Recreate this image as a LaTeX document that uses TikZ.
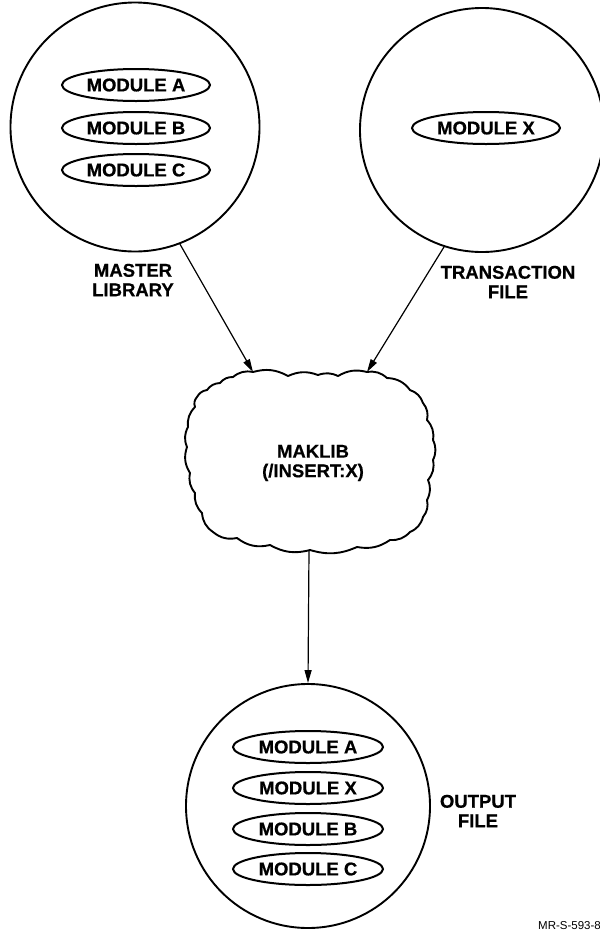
\documentclass[tikz,border=0pt]{standalone}
\usepackage{fontspec}
\setmainfont{Liberation Sans}
\newfontfamily\lblfont[FakeBold=0.5]{Liberation Sans}
\usetikzlibrary{shapes.geometric,arrows.meta,calc}
\begin{document}
\begin{tikzpicture}[x=1pt,y=-1pt,
  filecircle/.style={circle,draw,line width=1.9pt,minimum size=#1,inner sep=0pt},
  modbox/.style={ellipse,draw,line width=2pt,minimum width=148pt,minimum height=32pt,inner sep=0pt,font=\lblfont\bfseries\fontsize{18.5}{20}\selectfont},
  lbl/.style={align=center,font=\lblfont\bfseries\fontsize{18.5}{19.5}\selectfont,inner sep=0pt},
  flow/.style={line width=1.2pt,-{Triangle[length=13pt,width=7pt]}},
  cloudline/.style={line width=1.9pt,line join=round}]
\useasboundingbox (0,0) rectangle (600,930);

% master library
\node[filecircle=249pt] (ml) at (135,127) {};
\node[modbox] (mla) at (136,85) {MODULE A};
\node[modbox] (mlb) at (136,128) {MODULE B};
\node[modbox] (mlc) at (136,170) {MODULE C};
\node[lbl] (mllbl) at (133,280) {MASTER\\LIBRARY};

% transaction file
\node[filecircle=244pt] (tf) at (482,130) {};
\node[modbox] (tfx) at (486,128) {MODULE X};
\node[lbl] (tflbl) at (508,282) {TRANSACTION\\FILE};

% maklib cloud
\node[minimum width=248pt,minimum height=178pt,inner sep=0pt] (mak) at (309,461) {};
\draw[cloudline] (253,372)
  to[bend left=22] (288,376) to[bend left=22] (318,375) to[bend left=22] (338,376)
  to[bend left=22] (367,372) to[bend left=25] (387,378) to[bend left=25] (410,390)
  to[bend left=25] (423,403) to[bend left=25] (427,420) to[bend left=25] (433,440)
  to[bend left=25] (433,460) to[bend left=25] (428,480) to[bend left=25] (427,500)
  to[bend left=25] (423,517) to[bend left=25] (410,532) to[bend left=25] (390,540)
  to[bend left=22] (357,547) to[bend left=20] (310,550) to[bend left=22] (270,545)
  to[bend left=25] (237,538) to[bend left=25] (213,532) to[bend left=25] (202,513)
  to[bend left=25] (195,493) to[bend left=25] (190,473) to[bend left=25] (187,447)
  to[bend left=25] (188,427) to[bend left=25] (195,407) to[bend left=30] (197,397)
  to[bend left=25] (207,390) to[bend left=25] (220,383) to[bend left=25] (233,377)
  to[bend left=25] (253,372);
\node[lbl] (maklbl) at (313,463) {MAKLIB\\(/INSERT:X)};
\coordinate (in1) at (253,372);
\coordinate (in2) at (367,372);

% output file
\node[filecircle=244pt] (of) at (308,806) {};
\node[modbox,minimum width=150pt] (ofa) at (308,747) {MODULE A};
\node[modbox,minimum width=150pt] (ofx) at (308,788) {MODULE X};
\node[modbox,minimum width=150pt] (ofb) at (308,829) {MODULE B};
\node[modbox,minimum width=150pt] (ofc) at (308,869) {MODULE C};
\node[lbl] (oflbl) at (478,811) {OUTPUT\\FILE};

% connectors
\draw[flow] (ml.-69) -- (in1);
\draw[flow] (tf.-108) -- (in2);
\draw[flow] (mak.south) -- (of.north);

% figure id
\node[anchor=base west,inner sep=0pt,font=\fontsize{11.5}{12}\selectfont] (figid) at (538,929) {MR-S-593-8};
\end{tikzpicture}
\end{document}
